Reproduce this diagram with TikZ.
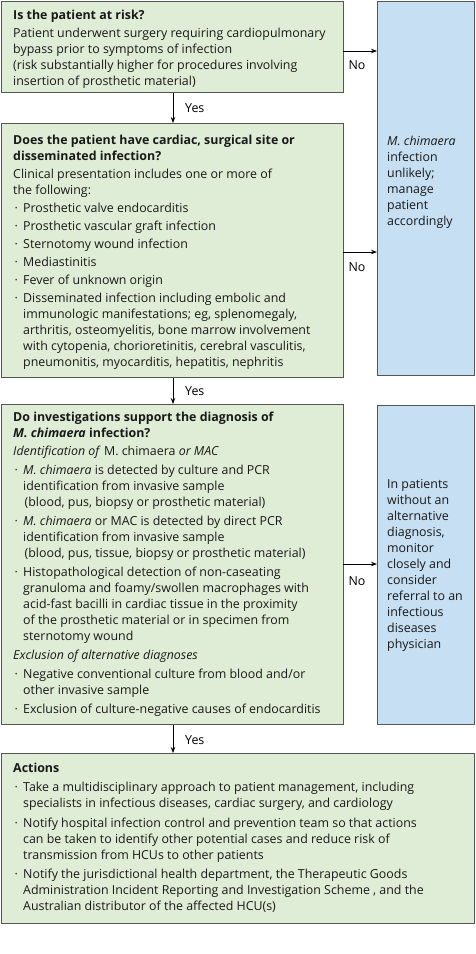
\documentclass[tikz,border=0pt]{standalone}
\usepackage{fontspec}
\setmainfont{Open Sans}
\usetikzlibrary{arrows.meta}
\definecolor{gfill}{HTML}{E0EDD6}
\definecolor{bfill}{HTML}{C6DFF3}
\definecolor{edgec}{HTML}{555555}
\newcommand{\bl}{\hspace*{1.5pt}\makebox[8.5pt][l]{·}}
\newcommand{\ind}{\hspace*{10pt}}
\tikzset{
  gbox/.style={draw=edgec, line width=1.2pt, fill=gfill, inner sep=0pt, anchor=north west},
  bbox/.style={draw=edgec, line width=1.2pt, fill=bfill, inner sep=0pt, anchor=north west},
  txt/.style={inner sep=0pt, align=left, font=\fontsize{12.4}{16}\selectfont, text=black!90},
  lbl/.style={inner sep=0pt, font=\fontsize{12.4}{14}\selectfont},
  arr/.style={line width=0.8pt, -{Stealth[length=6pt,width=4.5pt]}}
}
\begin{document}
\begin{tikzpicture}[x=1pt,y=-1pt]
\useasboundingbox (0,0) rectangle (475,954);
% boxes
\node[gbox, minimum width=342pt, minimum height=91pt] (b1) at (1,1) {};
\node[bbox, minimum width=97pt, minimum height=374pt] (r1) at (377,1) {};
\node[gbox, minimum width=342pt, minimum height=254pt] (b2) at (1,123) {};
\node[gbox, minimum width=342pt, minimum height=320pt] (b3) at (1,404) {};
\node[bbox, minimum width=97pt, minimum height=319pt] (r2) at (377,405) {};
\node[gbox, minimum width=473pt, minimum height=170pt] (b4) at (1,753) {};
% texts
\node[txt, anchor=north west] (t1) at (13,10) {\textbf{Is the patient at risk?}\\[1.6pt]
Patient underwent surgery requiring cardiopulmonary\\
bypass prior to symptoms of infection\\
(risk substantially higher for procedures involving\\
insertion of prosthetic material)};
\node[txt, anchor=north west] (t2) at (13,135) {\textbf{Does the patient have cardiac, surgical site or}\\
\textbf{disseminated infection?}\\[2pt]
Clinical presentation includes one or more of\\
the following:\\[2pt]
\bl Prosthetic valve endocarditis\\[2pt]
\bl Prosthetic vascular graft infection\\[2pt]
\bl Sternotomy wound infection\\[2pt]
\bl Mediastinitis\\[2pt]
\bl Fever of unknown origin\\[2pt]
\bl Disseminated infection including embolic and\\
\ind immunologic manifestations; eg, splenomegaly,\\
\ind arthritis, osteomyelitis, bone marrow involvement\\
\ind with cytopenia, chorioretinitis, cerebral vasculitis,\\
\ind pneumonitis, myocarditis, hepatitis, nephritis};
\node[txt, anchor=north west] (t3) at (13,412) {\textbf{Do investigations support the diagnosis of}\\
\textbf{\textit{M. chimaera} infection?}\\[1.5pt]
\textit{Identification of} M. chimaera \textit{or MAC}\\[3pt]
\bl \textit{M. chimaera} is detected by culture and PCR\\
\ind identification from invasive sample\\
\ind\hspace*{1.5pt}(blood, pus, biopsy or prosthetic material)\\[3pt]
\bl \textit{M. chimaera} or MAC is detected by direct PCR\\
\ind identification from invasive sample\\
\ind\hspace*{1.5pt}(blood, pus, tissue, biopsy or prosthetic material)\\[3pt]
\bl Histopathological detection of non-caseating\\
\ind granuloma and foamy/swollen macrophages with\\
\ind acid-fast bacilli in cardiac tissue in the proximity\\
\ind of the prosthetic material or in specimen from\\
\ind sternotomy wound\\[3pt]
\textit{Exclusion of alternative diagnoses}\\[3pt]
\bl Negative conventional culture from blood and/or\\
\ind other invasive sample\\[3pt]
\bl Exclusion of culture-negative causes of endocarditis};
\node[txt, anchor=north west] (t4) at (13,763) {\textbf{Actions}\\[3pt]
\bl Take a multidisciplinary approach to patient management, including\\
\ind specialists in infectious diseases, cardiac surgery, and cardiology\\[3.5pt]
\bl Notify hospital infection control and prevention team so that actions\\
\ind can be taken to identify other potential cases and reduce risk of\\
\ind transmission from HCUs to other patients\\[3.5pt]
\bl Notify the jurisdictional health department, the Therapeutic Goods\\
\ind Administration Incident Reporting and Investigation Scheme , and the\\
\ind Australian distributor of the affected HCU(s)};
\node[txt, anchor=west] (s1) at (387,182) {\textit{M. chimaera}\\ infection\\ unlikely;\\ manage\\ patient\\ accordingly};
\node[txt, anchor=west] (s2) at (387,565) {In patients\\ without an\\ alternative\\ diagnosis,\\ monitor\\ closely and\\ consider\\ referral to an\\ infectious\\ diseases\\ physician};
% connectors
\coordinate (n1) at (343,51);
\coordinate (n2) at (343,252);
\coordinate (n3) at (343,564);
\coordinate (ax) at (173,0);
\draw[arr] (n1) -- (n1 -| r1.west);
\draw[arr] (n2) -- (n2 -| r1.west);
\draw[arr] (n3) -- (n3 -| r2.west);
\draw[arr] (b1.south -| ax) -- (b2.north -| ax);
\draw[arr] (b2.south -| ax) -- (b3.north -| ax);
\draw[arr] (b3.south -| ax) -- (b4.north -| ax);
% labels
\node[lbl] (no1) at (357,65) {No};
\node[lbl] (no2) at (357,267) {No};
\node[lbl] (no3) at (357,581) {No};
\node[lbl, anchor=west] (y1) at (185,108) {Yes};
\node[lbl, anchor=west] (y2) at (185,391) {Yes};
\node[lbl, anchor=west] (y3) at (185,740) {Yes};
\end{tikzpicture}
\end{document}
